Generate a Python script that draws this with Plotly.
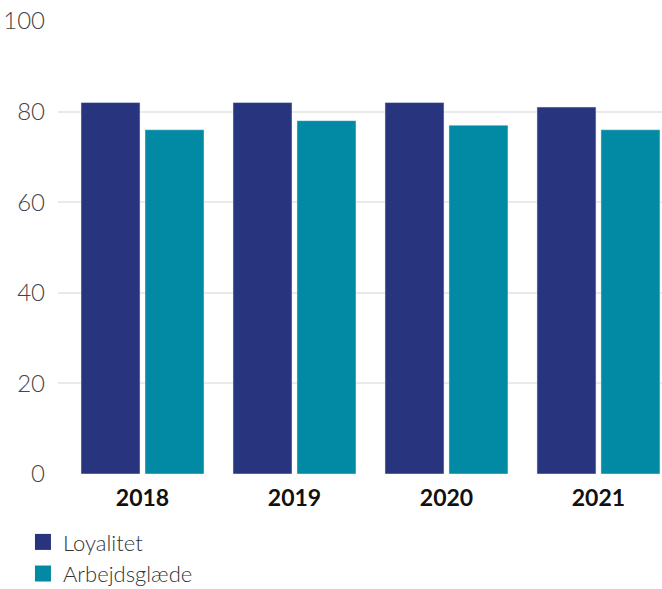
import plotly.graph_objects as go

# Data
YEARS = ["2018", "2019", "2020", "2021"]
LOYALITET = [82, 82, 82, 81]
ARBEJDSGLAEDE = [76, 78, 77, 76]

COLOR_LOYAL = "#29347f"
COLOR_ARB = "#0289a3"
FONT = "Lato"

fig = go.Figure()

fig.add_trace(go.Bar(x=YEARS, y=LOYALITET, name="Loyalitet",
                     marker_color=COLOR_LOYAL, showlegend=False))
fig.add_trace(go.Bar(x=YEARS, y=ARBEJDSGLAEDE, name="Arbejdsglæde",
                     marker_color=COLOR_ARB, showlegend=False))

# legend-only markers so the squares get the bigger size
for name, color in [("Loyalitet", COLOR_LOYAL), ("Arbejdsglæde", COLOR_ARB)]:
    fig.add_trace(go.Scatter(x=[None], y=[None], mode="markers", name=name,
                             marker=dict(symbol="square", size=18, color=color)))

fig.update_layout(
    width=662, height=589,
    margin=dict(l=58, r=0, t=21, b=115, autoexpand=False),
    paper_bgcolor="white",
    plot_bgcolor="white",
    barmode="group",
    bargap=0.158,
    bargroupgap=0.078,
    font=dict(family=FONT, color="#444444"),
    legend=dict(orientation="v", x=-0.058, xanchor="left", y=-0.104, yanchor="top",
                font=dict(size=22, color="#333333", weight=300),
                itemclick=False, tracegroupgap=0, bgcolor="rgba(0,0,0,0)"),
    xaxis=dict(range=[-0.556, 3.418], showgrid=False, zeroline=False, showline=False,
               ticks="", tickfont=dict(size=23, color="#111111", weight="bold"),
               ticklabelstandoff=8),
    yaxis=dict(range=[0, 100], tickvals=[0, 20, 40, 60, 80, 100], showgrid=True,
               gridcolor="#eaeaea", gridwidth=1.5, zeroline=False, showline=False,
               ticks="", tickfont=dict(size=24, color="#444444", weight=300),
               ticklabelstandoff=12, ticklabeloverflow="allow"),
)

# drop the default page margin so the figure fills the window exactly
fig.write_html("out.html", config={"displayModeBar": False},
               post_script="document.body.style.margin='0';document.body.style.overflow='hidden';")
